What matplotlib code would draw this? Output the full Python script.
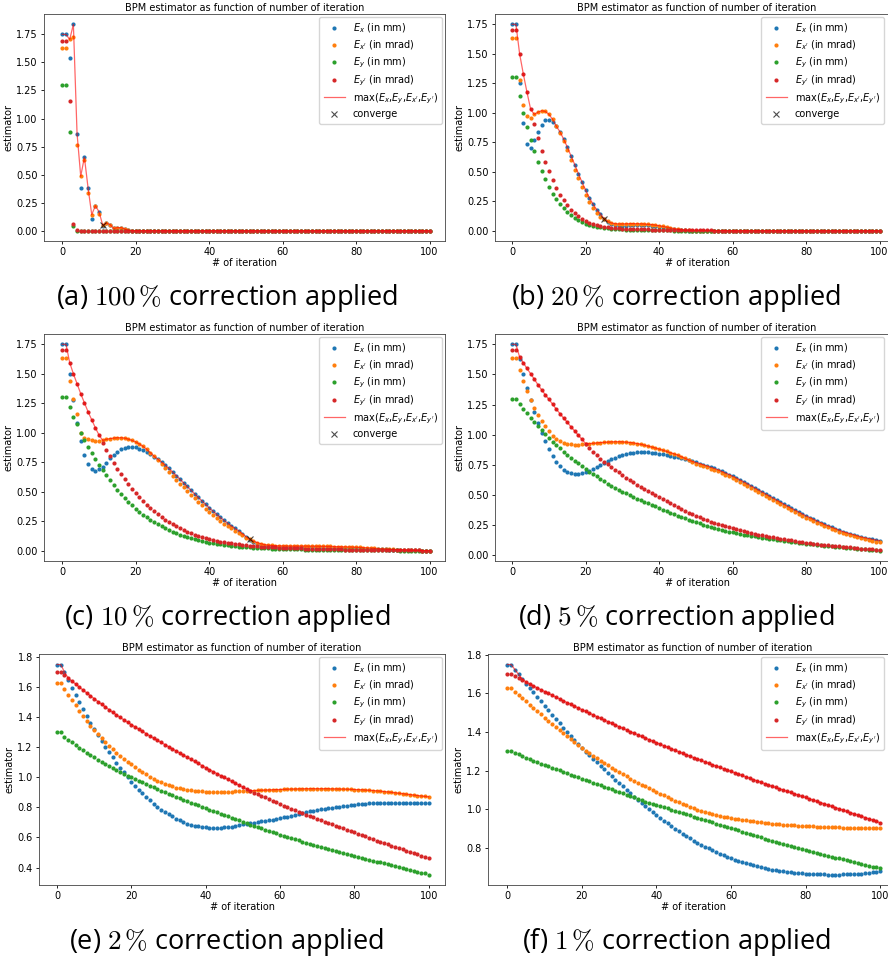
import numpy as np
import matplotlib
matplotlib.use("Agg")
import matplotlib.pyplot as plt

# iteration index 0..100
iterations = list(range(101))

# ---- (a) 100 % correction ----
ex_a = [1.75, 1.75, 1.54, 1.84, 0.866, 0.381, 0.655, 0.381, 0.104, 0.22,
        0.167, 0.045, 0.068, 0.054, 0.02, 0.027, 0.027, 0.012, 0.004, 0.0] + [0.0] * 81
exp_a = [1.625, 1.625, 1.705, 1.726, 0.768, 0.485, 0.634, 0.336, 0.143, 0.223,
         0.149, 0.048, 0.068, 0.054, 0.02, 0.027, 0.027, 0.015, 0.005, 0.0] + [0.0] * 81
ey_a = [1.30, 1.30, 0.884, 0.045] + [0.0] * 97
eyp_a = [1.69, 1.69, 1.158, 0.06, 0.002] + [0.0] * 96

# ---- (b) 20 % correction ----
ex_b = [1.75, 1.75, 1.255, 0.912, 0.731, 0.705, 0.765, 0.838, 0.90, 0.935,
        0.94, 0.923, 0.886, 0.838, 0.776, 0.708, 0.634, 0.561, 0.484, 0.411,
        0.343, 0.278, 0.224, 0.178, 0.142, 0.102, 0.072, 0.055, 0.047, 0.043,
        0.042, 0.043, 0.045, 0.047, 0.048, 0.048, 0.047, 0.045, 0.042, 0.038,
        0.033, 0.028, 0.022, 0.016, 0.011, 0.007, 0.004, 0.002, 0.001, 0.0] + [0.0] * 51
exp_b = [1.63, 1.63, 1.277, 1.062, 0.971, 0.957, 0.986, 1.005, 1.017, 1.011,
         0.986, 0.943, 0.886, 0.83, 0.759, 0.688, 0.598, 0.518, 0.447, 0.374,
         0.306, 0.241, 0.193, 0.15, 0.113, 0.095, 0.078, 0.065, 0.059, 0.057,
         0.057, 0.058, 0.059, 0.059, 0.059, 0.058, 0.056, 0.054, 0.051, 0.047,
         0.042, 0.036, 0.03, 0.024, 0.018, 0.012, 0.008, 0.005, 0.003, 0.001] + [0.0] * 51
ey_b = [1.30, 1.30, 1.138, 1.0, 0.881, 0.77, 0.674, 0.586, 0.507, 0.436,
        0.371, 0.314, 0.266, 0.227, 0.19, 0.159, 0.133, 0.11, 0.091, 0.074,
        0.059, 0.05, 0.042, 0.035, 0.03, 0.025, 0.021, 0.018, 0.015, 0.013,
        0.011, 0.01, 0.008, 0.007, 0.007, 0.006, 0.005, 0.005, 0.004, 0.004,
        0.003, 0.003, 0.002, 0.002, 0.001, 0.001, 0.001, 0.0, 0.0, 0.0] + [0.0] * 51
eyp_b = [1.70, 1.70, 1.50, 1.331, 1.175, 1.031, 0.903, 0.787, 0.677, 0.586,
         0.504, 0.428, 0.362, 0.306, 0.258, 0.215, 0.178, 0.147, 0.122, 0.099,
         0.079, 0.065, 0.055, 0.047, 0.04, 0.034, 0.03, 0.026, 0.023, 0.02,
         0.018, 0.017, 0.015, 0.014, 0.013, 0.012, 0.011, 0.011, 0.01, 0.009,
         0.008, 0.008, 0.007, 0.007, 0.006, 0.005, 0.005, 0.005, 0.004, 0.004,
         0.003, 0.003, 0.003, 0.002, 0.002, 0.001, 0.001, 0.001, 0.001, 0.0] + [0.0] * 41

# ---- (c) 10 % correction ----
ex_c = [1.75, 1.75, 1.495, 1.274, 1.085, 0.929, 0.816, 0.739, 0.694, 0.68,
        0.69, 0.714, 0.748, 0.785, 0.815, 0.84, 0.86, 0.872, 0.878, 0.88,
        0.876, 0.866, 0.852, 0.836, 0.818, 0.798, 0.776, 0.752, 0.726, 0.698,
        0.668, 0.638, 0.607, 0.576, 0.545, 0.514, 0.483, 0.453, 0.423, 0.393,
        0.364, 0.336, 0.309, 0.283, 0.258, 0.234, 0.211, 0.19, 0.17, 0.145,
        0.12, 0.095, 0.075, 0.06, 0.05, 0.043, 0.038, 0.035, 0.033, 0.032,
        0.031, 0.031, 0.03, 0.03, 0.03, 0.029, 0.029, 0.029, 0.028, 0.028,
        0.028, 0.027, 0.027, 0.026, 0.025, 0.025, 0.024, 0.023, 0.022, 0.021,
        0.02, 0.019, 0.018, 0.017, 0.016, 0.015, 0.014, 0.013, 0.012, 0.011,
        0.01, 0.009, 0.008, 0.007, 0.006, 0.005, 0.004, 0.003, 0.002, 0.001,
        0.001]
exp_c = [1.63, 1.63, 1.439, 1.283, 1.161, 1.0, 0.96, 0.945, 0.935, 0.93,
         0.93, 0.935, 0.945, 0.951, 0.955, 0.958, 0.958, 0.955, 0.946, 0.935,
         0.922, 0.905, 0.884, 0.859, 0.831, 0.80, 0.768, 0.735, 0.702, 0.669,
         0.636, 0.603, 0.57, 0.538, 0.506, 0.475, 0.444, 0.414, 0.385, 0.357,
         0.33, 0.303, 0.278, 0.254, 0.231, 0.21, 0.19, 0.17, 0.15, 0.13,
         0.112, 0.096, 0.082, 0.07, 0.06, 0.053, 0.048, 0.045, 0.043, 0.042,
         0.041, 0.041, 0.04, 0.04, 0.04, 0.04, 0.04, 0.039, 0.039, 0.039,
         0.038, 0.038, 0.037, 0.037, 0.036, 0.035, 0.034, 0.033, 0.032, 0.031,
         0.03, 0.028, 0.027, 0.025, 0.023, 0.021, 0.019, 0.017, 0.015, 0.013,
         0.012, 0.01, 0.009, 0.008, 0.006, 0.005, 0.004, 0.003, 0.002, 0.001,
         0.001]
ey_c = [1.30, 1.30, 1.218, 1.136, 1.072, 1.0, 0.94, 0.88, 0.83, 0.78,
        0.728, 0.683, 0.64, 0.597, 0.556, 0.517, 0.481, 0.447, 0.415, 0.385,
        0.357, 0.331, 0.306, 0.283, 0.262, 0.242, 0.223, 0.206, 0.19, 0.175,
        0.161, 0.148, 0.136, 0.125, 0.115, 0.106, 0.097, 0.089, 0.082, 0.075,
        0.069, 0.064, 0.059, 0.054, 0.05, 0.046, 0.042, 0.039, 0.036, 0.033,
        0.031, 0.029, 0.027, 0.025, 0.023, 0.021, 0.02, 0.019, 0.017, 0.016,
        0.015, 0.014, 0.014, 0.013, 0.012, 0.012, 0.011, 0.011, 0.01, 0.01,
        0.009, 0.009, 0.008, 0.008, 0.008, 0.007, 0.007, 0.007, 0.006, 0.006,
        0.005, 0.005, 0.005, 0.005, 0.004, 0.004, 0.004, 0.004, 0.003, 0.003,
        0.003, 0.003, 0.002, 0.002, 0.002, 0.002, 0.002, 0.001, 0.001, 0.001,
        0.001]
eyp_c = [1.70, 1.70, 1.594, 1.501, 1.416, 1.331, 1.255, 1.178, 1.11, 1.042,
         0.98, 0.915, 0.855, 0.80, 0.745, 0.697, 0.651, 0.605, 0.566, 0.527,
         0.487, 0.453, 0.419, 0.39, 0.36, 0.334, 0.309, 0.286, 0.264, 0.244,
         0.225, 0.207, 0.191, 0.176, 0.162, 0.149, 0.137, 0.126, 0.116, 0.107,
         0.099, 0.091, 0.084, 0.078, 0.072, 0.067, 0.062, 0.058, 0.054, 0.05,
         0.047, 0.044, 0.041, 0.038, 0.036, 0.034, 0.032, 0.03, 0.028, 0.027,
         0.025, 0.024, 0.023, 0.022, 0.021, 0.02, 0.019, 0.018, 0.017, 0.016,
         0.016, 0.015, 0.014, 0.014, 0.013, 0.012, 0.012, 0.011, 0.011, 0.01,
         0.01, 0.009, 0.009, 0.008, 0.008, 0.007, 0.007, 0.006, 0.006, 0.005,
         0.005, 0.005, 0.004, 0.004, 0.004, 0.003, 0.003, 0.003, 0.002, 0.002,
         0.002]

# ---- (d) 5 % correction ----
ex_d = [1.75, 1.75, 1.625, 1.50, 1.389, 1.288, 1.186, 1.097, 1.014, 0.944,
        0.881, 0.819, 0.775, 0.736, 0.708, 0.692, 0.681, 0.675, 0.675, 0.681,
        0.689, 0.70, 0.714, 0.731, 0.747, 0.764, 0.778, 0.794, 0.808, 0.819,
        0.831, 0.839, 0.844, 0.85, 0.853, 0.853, 0.853, 0.853, 0.85, 0.847,
        0.842, 0.836, 0.83, 0.825, 0.817, 0.811, 0.803, 0.794, 0.786, 0.778,
        0.769, 0.76, 0.75, 0.74, 0.73, 0.72, 0.708, 0.695, 0.682, 0.669,
        0.655, 0.64, 0.624, 0.608, 0.592, 0.575, 0.558, 0.541, 0.524, 0.507,
        0.49, 0.473, 0.456, 0.439, 0.422, 0.405, 0.389, 0.373, 0.357, 0.341,
        0.325, 0.311, 0.297, 0.283, 0.269, 0.255, 0.243, 0.231, 0.219, 0.207,
        0.195, 0.186, 0.177, 0.168, 0.159, 0.15, 0.144, 0.138, 0.132, 0.126,
        0.12]
exp_d = [1.633, 1.633, 1.536, 1.444, 1.361, 1.286, 1.225, 1.161, 1.111, 1.069,
         1.031, 0.992, 0.964, 0.944, 0.931, 0.922, 0.919, 0.918, 0.918, 0.919,
         0.922, 0.925, 0.928, 0.931, 0.934, 0.936, 0.938, 0.94, 0.941, 0.941,
         0.94, 0.938, 0.935, 0.931, 0.926, 0.92, 0.913, 0.905, 0.897, 0.889,
         0.88, 0.871, 0.861, 0.851, 0.841, 0.831, 0.818, 0.804, 0.79, 0.772,
         0.76, 0.75, 0.74, 0.729, 0.718, 0.707, 0.695, 0.682, 0.668, 0.654,
         0.64, 0.625, 0.609, 0.593, 0.576, 0.559, 0.542, 0.525, 0.508, 0.491,
         0.474, 0.457, 0.44, 0.423, 0.406, 0.39, 0.374, 0.358, 0.342, 0.326,
         0.311, 0.297, 0.283, 0.269, 0.256, 0.243, 0.231, 0.219, 0.207, 0.196,
         0.185, 0.175, 0.166, 0.157, 0.148, 0.14, 0.133, 0.126, 0.119, 0.112,
         0.105]
ey_d = [1.30, 1.30, 1.258, 1.217, 1.178, 1.139, 1.106, 1.069, 1.036, 1.003,
        0.972, 0.942, 0.914, 0.886, 0.858, 0.833, 0.808, 0.783, 0.761, 0.736,
        0.714, 0.692, 0.672, 0.653, 0.633, 0.614, 0.594, 0.578, 0.561, 0.544,
        0.528, 0.513, 0.498, 0.484, 0.47, 0.456, 0.443, 0.43, 0.417, 0.404,
        0.391, 0.378, 0.365, 0.352, 0.34, 0.328, 0.316, 0.305, 0.294, 0.283,
        0.273, 0.263, 0.253, 0.244, 0.235, 0.226, 0.218, 0.21, 0.202, 0.195,
        0.189, 0.183, 0.177, 0.171, 0.166, 0.161, 0.156, 0.151, 0.146, 0.141,
        0.136, 0.131, 0.127, 0.123, 0.119, 0.115, 0.111, 0.107, 0.103, 0.099,
        0.095, 0.092, 0.089, 0.086, 0.083, 0.08, 0.077, 0.074, 0.071, 0.068,
        0.065, 0.062, 0.059, 0.056, 0.054, 0.051, 0.048, 0.046, 0.043, 0.04,
        0.037]
eyp_d = [1.70, 1.70, 1.644, 1.597, 1.55, 1.506, 1.461, 1.414, 1.372, 1.331,
         1.292, 1.253, 1.211, 1.175, 1.136, 1.103, 1.064, 1.031, 0.994, 0.961,
         0.925, 0.892, 0.856, 0.828, 0.80, 0.775, 0.753, 0.731, 0.708, 0.686,
         0.664, 0.642, 0.622, 0.603, 0.583, 0.564, 0.547, 0.531, 0.514, 0.497,
         0.481, 0.465, 0.449, 0.433, 0.417, 0.401, 0.385, 0.369, 0.353, 0.339,
         0.325, 0.313, 0.302, 0.29, 0.279, 0.268, 0.258, 0.248, 0.239, 0.23,
         0.222, 0.214, 0.206, 0.198, 0.19, 0.183, 0.176, 0.17, 0.164, 0.158,
         0.153, 0.147, 0.142, 0.137, 0.132, 0.127, 0.122, 0.117, 0.112, 0.106,
         0.10, 0.097, 0.094, 0.091, 0.088, 0.085, 0.082, 0.079, 0.076, 0.073,
         0.07, 0.067, 0.064, 0.061, 0.058, 0.055, 0.053, 0.05, 0.048, 0.045,
         0.042]

# ---- (e) 2 % correction ----
ex_e = [1.75, 1.75, 1.70, 1.645, 1.593, 1.547, 1.50, 1.453, 1.409, 1.364,
        1.324, 1.282, 1.242, 1.204, 1.169, 1.133, 1.098, 1.064, 1.033, 1.002,
        0.971, 0.944, 0.918, 0.893, 0.869, 0.847, 0.824, 0.804, 0.786, 0.77,
        0.755, 0.74, 0.726, 0.713, 0.702, 0.693, 0.685, 0.679, 0.674, 0.67,
        0.667, 0.665, 0.664, 0.664, 0.665, 0.667, 0.67, 0.673, 0.677, 0.682,
        0.687, 0.691, 0.695, 0.699, 0.703, 0.707, 0.711, 0.715, 0.719, 0.723,
        0.728, 0.733, 0.739, 0.745, 0.751, 0.757, 0.763, 0.768, 0.773, 0.778,
        0.783, 0.787, 0.791, 0.795, 0.799, 0.803, 0.806, 0.809, 0.812, 0.815,
        0.818, 0.82, 0.822, 0.824, 0.826, 0.828, 0.829, 0.83, 0.831, 0.832,
        0.832, 0.832, 0.832, 0.832, 0.831, 0.831, 0.83, 0.829, 0.828, 0.828,
        0.827]
exp_e = [1.627, 1.627, 1.589, 1.549, 1.513, 1.478, 1.442, 1.407, 1.376, 1.344,
         1.316, 1.287, 1.26, 1.233, 1.209, 1.187, 1.164, 1.144, 1.124, 1.104,
         1.087, 1.069, 1.051, 1.036, 1.02, 1.004, 0.991, 0.978, 0.967, 0.956,
         0.947, 0.939, 0.932, 0.926, 0.921, 0.917, 0.913, 0.91, 0.908, 0.906,
         0.905, 0.905, 0.904, 0.904, 0.904, 0.904, 0.905, 0.905, 0.906, 0.907,
         0.908, 0.909, 0.911, 0.912, 0.913, 0.914, 0.915, 0.916, 0.917, 0.918,
         0.919, 0.92, 0.921, 0.922, 0.922, 0.923, 0.923, 0.924, 0.924, 0.924,
         0.924, 0.924, 0.924, 0.924, 0.923, 0.923, 0.922, 0.922, 0.921, 0.92,
         0.919, 0.918, 0.917, 0.915, 0.914, 0.912, 0.91, 0.908, 0.905, 0.903,
         0.90, 0.897, 0.894, 0.891, 0.888, 0.885, 0.882, 0.879, 0.876, 0.873,
         0.87]
ey_e = [1.30, 1.30, 1.27, 1.25, 1.232, 1.214, 1.197, 1.18, 1.164, 1.148,
        1.133, 1.118, 1.103, 1.089, 1.075, 1.062, 1.049, 1.036, 1.023, 1.011,
        0.999, 0.988, 0.977, 0.966, 0.955, 0.944, 0.933, 0.922, 0.912, 0.902,
        0.892, 0.882, 0.872, 0.862, 0.852, 0.842, 0.832, 0.822, 0.813, 0.804,
        0.795, 0.785, 0.776, 0.767, 0.758, 0.749, 0.74, 0.731, 0.722, 0.713,
        0.704, 0.695, 0.686, 0.677, 0.669, 0.66, 0.651, 0.643, 0.635, 0.627,
        0.619, 0.611, 0.603, 0.596, 0.588, 0.581, 0.573, 0.566, 0.558, 0.551,
        0.544, 0.537, 0.53, 0.523, 0.516, 0.509, 0.502, 0.496, 0.489, 0.483,
        0.476, 0.47, 0.464, 0.458, 0.452, 0.446, 0.44, 0.434, 0.428, 0.422,
        0.416, 0.41, 0.404, 0.398, 0.392, 0.386, 0.38, 0.373, 0.367, 0.361,
        0.354]
eyp_e = [1.70, 1.70, 1.68, 1.66, 1.64, 1.62, 1.60, 1.58, 1.561, 1.542,
         1.523, 1.504, 1.486, 1.468, 1.45, 1.432, 1.415, 1.398, 1.382, 1.366,
         1.35, 1.335, 1.32, 1.305, 1.29, 1.275, 1.26, 1.246, 1.232, 1.218,
         1.204, 1.19, 1.176, 1.162, 1.148, 1.134, 1.12, 1.106, 1.092, 1.078,
         1.064, 1.051, 1.038, 1.025, 1.012, 0.999, 0.986, 0.973, 0.96, 0.947,
         0.935, 0.923, 0.911, 0.899, 0.888, 0.877, 0.866, 0.855, 0.844, 0.833,
         0.822, 0.812, 0.802, 0.792, 0.782, 0.772, 0.762, 0.752, 0.742, 0.733,
         0.724, 0.715, 0.706, 0.697, 0.688, 0.679, 0.67, 0.661, 0.652, 0.643,
         0.634, 0.625, 0.616, 0.607, 0.598, 0.589, 0.58, 0.572, 0.563, 0.555,
         0.546, 0.538, 0.529, 0.521, 0.513, 0.504, 0.496, 0.488, 0.48, 0.472,
         0.464]

# ---- (f) 1 % correction ----
ex_f = [1.75, 1.75, 1.724, 1.699, 1.675, 1.651, 1.628, 1.605, 1.582, 1.559,
        1.536, 1.513, 1.49, 1.467, 1.445, 1.423, 1.401, 1.379, 1.358, 1.337,
        1.316, 1.298, 1.28, 1.262, 1.244, 1.226, 1.208, 1.19, 1.172, 1.154,
        1.136, 1.118, 1.1, 1.082, 1.064, 1.046, 1.031, 1.016, 1.001, 0.986,
        0.971, 0.956, 0.941, 0.927, 0.913, 0.899, 0.886, 0.873, 0.86, 0.849,
        0.838, 0.827, 0.817, 0.807, 0.797, 0.788, 0.779, 0.77, 0.762, 0.754,
        0.746, 0.739, 0.732, 0.726, 0.72, 0.714, 0.709, 0.704, 0.699, 0.695,
        0.691, 0.687, 0.684, 0.681, 0.678, 0.676, 0.674, 0.672, 0.67, 0.668,
        0.667, 0.666, 0.665, 0.664, 0.663, 0.663, 0.662, 0.662, 0.662, 0.662,
        0.663, 0.663, 0.664, 0.665, 0.666, 0.667, 0.669, 0.671, 0.673, 0.675,
        0.678]
exp_f = [1.628, 1.628, 1.61, 1.593, 1.576, 1.559, 1.542, 1.525, 1.508, 1.491,
         1.474, 1.457, 1.441, 1.425, 1.409, 1.393, 1.378, 1.363, 1.348, 1.333,
         1.318, 1.304, 1.29, 1.277, 1.264, 1.251, 1.239, 1.227, 1.215, 1.203,
         1.192, 1.181, 1.17, 1.159, 1.148, 1.138, 1.128, 1.118, 1.108, 1.099,
         1.09, 1.081, 1.072, 1.063, 1.054, 1.045, 1.036, 1.028, 1.02, 1.012,
         1.005, 0.998, 0.992, 0.986, 0.98, 0.975, 0.97, 0.966, 0.962, 0.958,
         0.955, 0.952, 0.949, 0.946, 0.943, 0.94, 0.938, 0.935, 0.933, 0.93,
         0.928, 0.926, 0.924, 0.922, 0.921, 0.919, 0.918, 0.917, 0.915, 0.914,
         0.913, 0.912, 0.911, 0.91, 0.909, 0.908, 0.907, 0.907, 0.906, 0.906,
         0.905, 0.905, 0.905, 0.904, 0.904, 0.904, 0.904, 0.904, 0.904, 0.904,
         0.904]
ey_f = [1.30, 1.30, 1.292, 1.284, 1.276, 1.268, 1.26, 1.252, 1.244, 1.236,
        1.229, 1.222, 1.215, 1.208, 1.201, 1.194, 1.187, 1.18, 1.173, 1.166,
        1.159, 1.152, 1.145, 1.138, 1.131, 1.124, 1.117, 1.11, 1.103, 1.096,
        1.089, 1.082, 1.075, 1.068, 1.061, 1.054, 1.047, 1.04, 1.034, 1.028,
        1.022, 1.016, 1.01, 1.004, 0.998, 0.992, 0.986, 0.98, 0.974, 0.968,
        0.962, 0.956, 0.95, 0.944, 0.938, 0.932, 0.926, 0.92, 0.914, 0.908,
        0.902, 0.896, 0.89, 0.884, 0.878, 0.872, 0.866, 0.86, 0.854, 0.848,
        0.842, 0.836, 0.83, 0.825, 0.82, 0.815, 0.81, 0.805, 0.8, 0.795,
        0.79, 0.785, 0.78, 0.775, 0.77, 0.765, 0.76, 0.755, 0.75, 0.745,
        0.74, 0.735, 0.73, 0.725, 0.72, 0.715, 0.711, 0.707, 0.703, 0.699,
        0.695]
eyp_f = [1.70, 1.70, 1.689, 1.679, 1.669, 1.659, 1.649, 1.639, 1.629, 1.619,
         1.61, 1.60, 1.591, 1.581, 1.572, 1.562, 1.553, 1.544, 1.534, 1.525,
         1.516, 1.507, 1.498, 1.489, 1.48, 1.471, 1.462, 1.454, 1.445, 1.436,
         1.428, 1.419, 1.411, 1.402, 1.394, 1.386, 1.377, 1.369, 1.361, 1.353,
         1.345, 1.337, 1.329, 1.321, 1.313, 1.305, 1.298, 1.29, 1.282, 1.275,
         1.267, 1.26, 1.253, 1.245, 1.238, 1.231, 1.224, 1.217, 1.21, 1.203,
         1.196, 1.189, 1.182, 1.175, 1.168, 1.161, 1.154, 1.147, 1.14, 1.133,
         1.126, 1.119, 1.113, 1.106, 1.10, 1.093, 1.087, 1.08, 1.074, 1.067,
         1.061, 1.054, 1.048, 1.041, 1.035, 1.028, 1.022, 1.015, 1.009, 1.002,
         0.996, 0.989, 0.983, 0.976, 0.97, 0.963, 0.957, 0.95, 0.944, 0.937,
         0.93]

captions = ["(a) $100\\,\\%$ correction applied", "(b) $20\\,\\%$ correction applied",
            "(c) $10\\,\\%$ correction applied", "(d) $5\\,\\%$ correction applied",
            "(e) $2\\,\\%$ correction applied", "(f) $1\\,\\%$ correction applied"]
converge_iter = [11, 25, 51, None, None, None]
series = [(ex_a, exp_a, ey_a, eyp_a), (ex_b, exp_b, ey_b, eyp_b),
          (ex_c, exp_c, ey_c, eyp_c), (ex_d, exp_d, ey_d, eyp_d),
          (ex_e, exp_e, ey_e, eyp_e), (ex_f, exp_f, ey_f, eyp_f)]

labels = ["$E_x$ (in mm)", "$E_{x'}$ (in mrad)", "$E_y$ (in mm)", "$E_{y'}$ (in mrad)"]
colors = ["tab:blue", "tab:orange", "tab:green", "tab:red"]

W, H = 888, 960
fig = plt.figure(figsize=(W / 100, H / 100), dpi=100)

# axes boxes in pixels: left, top, right, bottom ; and x limits
boxes = [(44, 14, 445, 241), (495, 14, 899, 241),
         (44, 334, 445, 561), (495, 334, 899, 561),
         (39, 654, 445, 885), (488, 654, 898, 885)]
xlims = [(-5, 104.2), (-4.7, 105.3), (-5, 104.2), (-4.7, 105.3), (-4.85, 104.4), (-5.2, 104.8)]
cap_pos = [(227, 298), (676, 298), (227, 618), (676, 618), (227, 942), (676, 942)]

fs = 7.0
for k in range(6):
    l, t, r, b = boxes[k]
    ax = fig.add_axes([l / W, 1 - b / H, (r - l) / W, (b - t) / H])
    ex, exp_, ey, eyp = series[k]
    for vals, lab, c in zip((ex, exp_, ey, eyp), labels, colors):
        ax.plot(iterations, vals, "o", ms=3.0, mew=0, color=c, label=lab)
    mx = np.max(np.array([ex, ey, exp_, eyp]), axis=0)
    ax.plot(iterations, mx, "-", color="red", alpha=0.6, lw=0.9,
            label="max($E_x$,$E_y$,$E_{x'}$,$E_{y'}$)")
    if converge_iter[k] is not None:
        ci = converge_iter[k]
        ax.plot([ci], [mx[ci]], "x", color="k", alpha=0.7, ms=5, mew=0.8, label="converge")
    ax.set_xlim(*xlims[k])
    ax.set_title("BPM estimator as function of number of iteration", fontsize=fs, pad=2.5)
    ax.set_xlabel("# of iteration", fontsize=fs, labelpad=0.5)
    ax.set_ylabel("estimator", fontsize=fs, labelpad=2)
    ax.tick_params(labelsize=fs, length=2.5, width=0.6, pad=2)
    for sp in ax.spines.values():
        sp.set_linewidth(0.6)
        sp.set_color("#444444")
    # right column: keep legend inside the figure edge
    anchor_x = min(1.0, (W - 1 - l) / (r - l))
    ax.legend(loc="upper right", bbox_to_anchor=(anchor_x, 1.0), fontsize=fs,
              handlelength=2.2, borderpad=0.45, labelspacing=0.36,
              handletextpad=0.8, borderaxespad=0.3, framealpha=0.8)
    fig.text(cap_pos[k][0] / W, 1 - cap_pos[k][1] / H, captions[k],
             family="Open Sans", fontsize=19.5, ha="center", va="center", math_fontfamily="cm")

fig.savefig("out.png", dpi=100)
